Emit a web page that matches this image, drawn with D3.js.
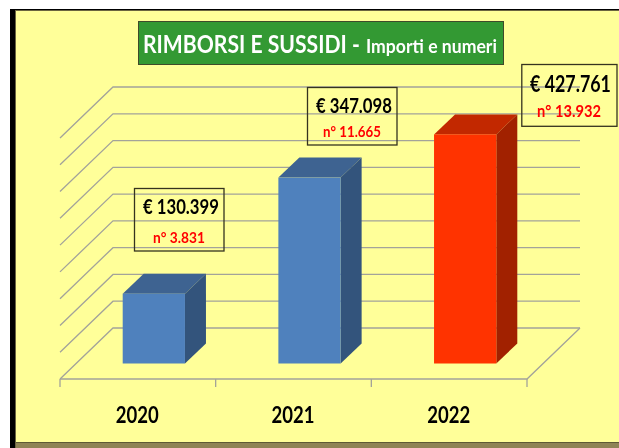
<!DOCTYPE html>
<html>
<head>
<meta charset="utf-8">
<script src="https://cdn.jsdelivr.net/npm/d3@7.9.0/dist/d3.min.js"></script>
<style>
  html, body { margin: 0; padding: 0; background: #fff; }
  svg { display: block; }
  text { font-family: Lato, "Noto Sans", sans-serif; font-weight: 700; }
</style>
</head>
<body>
<svg id="chart" width="619" height="448"></svg>
<script>
const years = ['2020', '2021', '2022'];
const amounts = [130399, 347098, 427761];
const amountLabels = ['€ 130.399', '€ 347.098', '€ 427.761'];
const countLabels = ['n° 3.831', 'n° 11.665', 'n° 13.932'];
const frontColors = ['#4f81bd', '#4f81bd', '#ff3300'];
const topColors = ['#3e6391', '#3e6391', '#c22800'];
const sideColors = ['#33547c', '#33547c', '#a12100'];

const svg = d3.select('#chart');

// the reference is a soft screenshot, so text gets a very light blur
svg.append('defs').append('filter').attr('id', 'soft')
  .append('feGaussianBlur').attr('stdDeviation', 0.35);

// frame
svg.append('rect').attr('x', 10).attr('y', 9).attr('width', 609).attr('height', 439).attr('fill', '#000');
svg.append('rect').attr('x', 15).attr('y', 10).attr('width', 604).attr('height', 438).attr('fill', '#6b6540');
svg.append('rect').attr('x', 16).attr('y', 11).attr('width', 603).attr('height', 431).attr('fill', '#ffff99');
svg.append('rect').attr('x', 16).attr('y', 442).attr('width', 603).attr('height', 1).attr('fill', '#5f5a35');
svg.append('rect').attr('x', 16).attr('y', 443).attr('width', 603).attr('height', 5).attr('fill', '#8f8455');

// 3d projection of the plot box
const floorLeft = 60, floorRight = 527, floorFront = 379;
const depthX = 53, depthY = 51;
const barDepthX = 21, barDepthY = 20;
const barInsetX = (depthX - barDepthX) / 2, barInsetY = (depthY - barDepthY) / 2;

const x = d3.scaleBand().domain(years).range([floorLeft, floorRight]).paddingInner(0.6).paddingOuter(0.3);
const y = d3.scaleLinear().domain([0, 450000]).range([floorFront, floorFront - 241]);

const gridColor = '#a3a39a';
const grid = svg.append('g').attr('fill', 'none').attr('stroke', gridColor).attr('stroke-width', 1.3);
y.ticks(9).forEach(t => {
  grid.append('path').attr('d', d3.line()([
    [floorLeft, y(t)],
    [floorLeft + depthX, y(t) - depthY],
    [floorRight + depthX, y(t) - depthY]
  ]));
});
grid.append('path').attr('d', d3.line()([
  [floorLeft, floorFront],
  [floorRight, floorFront],
  [floorRight + depthX, floorFront - depthY]
]));
const tickXs = years.map(d => x(d) - x.step() * 0.3).concat(floorRight);
tickXs.forEach(tx => {
  grid.append('line').attr('x1', tx).attr('x2', tx).attr('y1', floorFront).attr('y2', floorFront + 8);
});

// bars
years.forEach((yr, i) => {
  const x0 = x(yr) + barInsetX, x1 = x0 + x.bandwidth();
  const top = y(amounts[i]) - barInsetY, base = y(0) - barInsetY;
  const g = svg.append('g');
  g.append('polygon').attr('fill', topColors[i]).attr('points', [
    [x0, top], [x0 + barDepthX, top - barDepthY], [x1 + barDepthX, top - barDepthY], [x1, top]
  ].join(' '));
  g.append('polygon').attr('fill', sideColors[i]).attr('points', [
    [x1, top], [x1 + barDepthX, top - barDepthY], [x1 + barDepthX, base - barDepthY], [x1, base]
  ].join(' '));
  g.append('rect').attr('x', x0).attr('y', top).attr('width', x.bandwidth()).attr('height', base - top).attr('fill', frontColors[i]);
});

// condensed text, the original font is narrower than Lato
function label(parent, tx, ty, size, width, color, str) {
  const t = parent.append('text')
    .attr('font-size', size).attr('fill', color)
    .attr('filter', 'url(#soft)')
    .text(str);
  const sx = width / t.node().getComputedTextLength();
  t.attr('transform', `translate(${tx},${ty}) scale(${sx},1)`);
  return t;
}

// year labels
years.forEach(yr => {
  label(svg, x(yr) + x.bandwidth() / 2 - 22, 423, 23.5, 43, '#000', yr);
});

// value boxes
const boxes = [
  { x: 134.5, y: 188.5, w: 89.5, h: 62.5, tx1: 143, ty1: 213.5, w1: 76, fs1: 21, tx2: 153, ty2: 242.5, w2: 52, fs2: 16 },
  { x: 307.5, y: 87.5, w: 89.5, h: 57.5, tx1: 316, ty1: 113, w1: 76, fs1: 21, tx2: 323, ty2: 136.5, w2: 58, fs2: 16 },
  { x: 521.8, y: 64.5, w: 95.2, h: 61.8, tx1: 530, ty1: 92, w1: 81, fs1: 22.5, tx2: 537, ty2: 117, w2: 64, fs2: 17.5 }
];
boxes.forEach((b, i) => {
  const g = svg.append('g');
  g.append('rect').attr('x', b.x).attr('y', b.y).attr('width', b.w).attr('height', b.h)
    .attr('fill', 'none').attr('stroke', '#35331f').attr('stroke-width', 1.3);
  label(g, b.tx1, b.ty1, b.fs1, b.w1, '#000', amountLabels[i]);
  label(g, b.tx2, b.ty2, b.fs2, b.w2, '#ff0000', countLabels[i]);
});

// title
svg.append('rect').attr('x', 138.5).attr('y', 21.5).attr('width', 365).attr('height', 43)
  .attr('fill', '#339933').attr('stroke', '#3f4a2a').attr('stroke-width', 1);
label(svg, 143, 53, 25, 217, '#fff', 'RIMBORSI E SUSSIDI -');
label(svg, 366, 53, 18, 131, '#fff', 'Importi e numeri');
</script>
</body>
</html>
